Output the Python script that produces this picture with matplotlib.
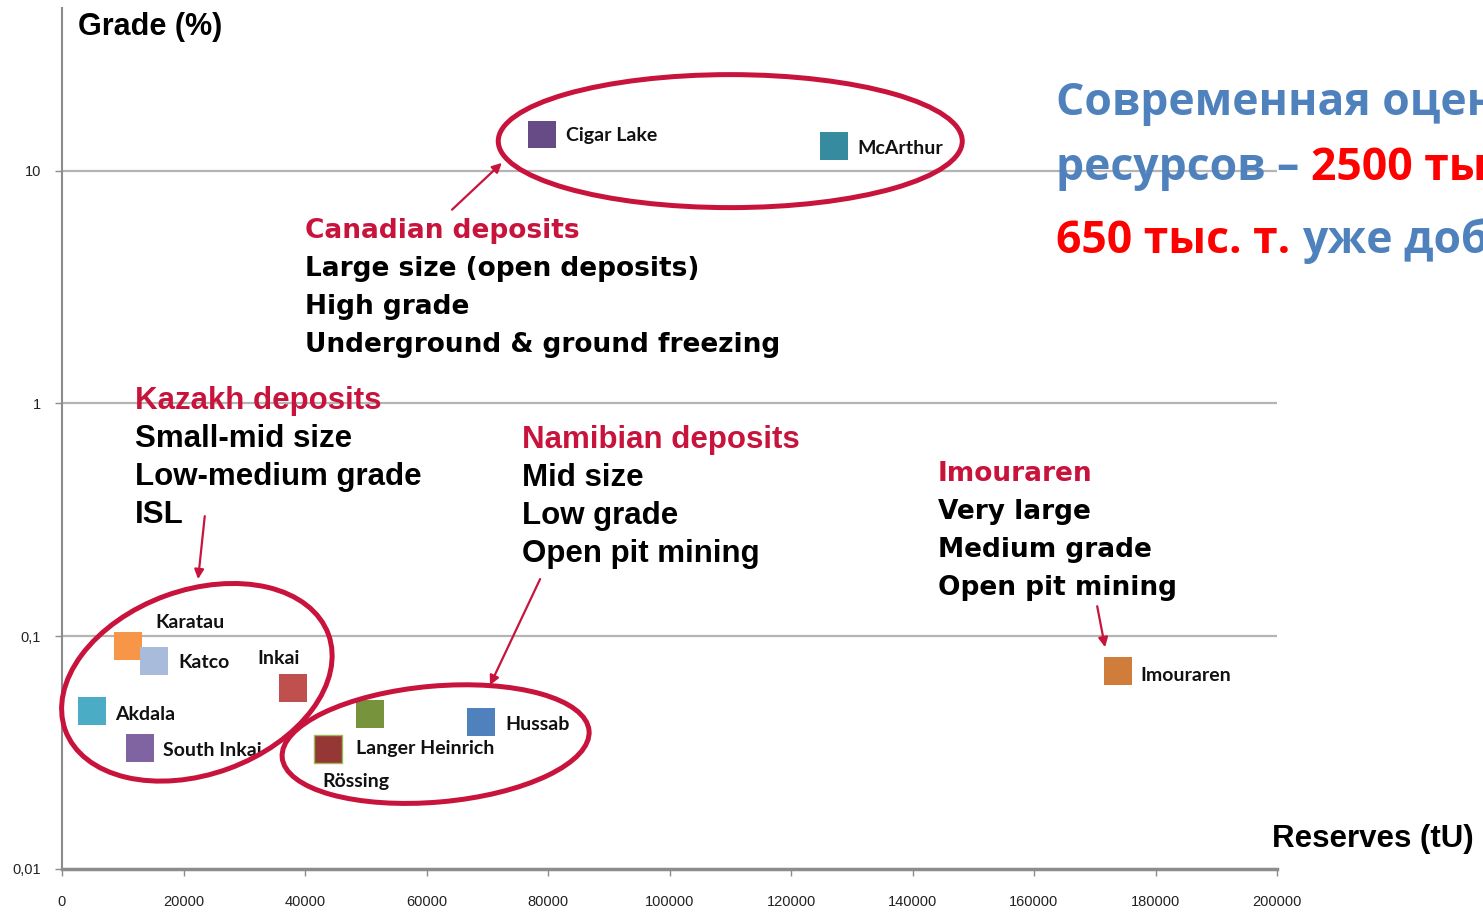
import numpy as np
import matplotlib
matplotlib.use("Agg")
import matplotlib.pyplot as plt
from matplotlib.patches import Ellipse
from matplotlib.transforms import ScaledTranslation
from matplotlib.ticker import FixedLocator, NullLocator

# deposits: reserves (tU) and grade (%)
names = ["Cigar Lake", "McArthur", "Karatau", "Katco", "Inkai", "Akdala",
         "South Inkai", "Langer Heinrich", "Rössing", "Hussab", "Imouraren"]
reserves = [79000, 127100, 10860, 15140, 38000, 4940, 12840, 50700, 43800, 69000, 173800]
grades = [14.3, 12.8, 0.0906, 0.0781, 0.0598, 0.0476, 0.0330, 0.0462, 0.0327, 0.0427, 0.0707]
colors = ["#674b86", "#378b9e", "#f79646", "#a9bbdb", "#c0504d", "#4bacc6",
          "#8064a2", "#77933c", "#953735", "#4f81bd", "#d07c3a"]

x_ticks = [0, 20000, 40000, 60000, 80000, 100000, 120000, 140000, 160000, 180000, 200000]
y_ticks = [0.01, 0.1, 1, 10]
y_tick_labels = ["0,01", "0,1", "1", "10"]

RED = "#c8143c"
BLUE = "#4f81bd"

W, H = 1483, 914
fig = plt.figure(figsize=(W / 100, H / 100), dpi=100)
ax = fig.add_axes([62 / W, 1 - 869 / H, (1277 - 62) / W, (869 - 8) / H])

ax.set_yscale("log")
ax.set_xlim(0, 200000)
ax.set_ylim(0.01, 50)

for g in [0.1, 1, 10]:
    ax.axhline(g, color="#b4b4b4", lw=1.6, zorder=1)

ax.scatter(reserves, grades, s=400, marker="s", c=colors, linewidths=0, zorder=3)
ax.scatter([reserves[8]], [grades[8]], s=400, marker="s", c=[colors[8]],
           edgecolors="#9bbb59", linewidths=1.0, zorder=3)

# label offsets (pixels) relative to marker
label_pos = {
    "Cigar Lake": (24, -1, "left"), "McArthur": (23, -3, "left"),
    "Karatau": (27, 24, "left"), "Katco": (24, -1, "left"),
    "Inkai": (-14, 30, "center"), "Akdala": (23, -3, "left"),
    "South Inkai": (23, -2, "left"), "Langer Heinrich": (-14, -34, "left"),
    "Rössing": (-6, -32, "left"), "Hussab": (24, -2, "left"),
    "Imouraren": (23, -4, "left"),
}
for n, x, y in zip(names, reserves, grades):
    dx, dy, ha = label_pos[n]
    ax.annotate(n, (x, y), xytext=(dx, dy), textcoords="offset pixels",
                ha=ha, va="center", fontsize=14, fontweight="bold",
                family=["Lato", "DejaVu Sans"], color="#111111", zorder=4)

# ellipses (center in data, size in pixels, angle)
groups = [
    (110000, 13.4, 464, 133, 0),
    (22200, 0.0634, 280, 184, 20),
    (61500, 0.0344, 308, 116, 5),
]
for cx, cy, w, h, a in groups:
    tr = fig.dpi_scale_trans + ScaledTranslation(cx, cy, ax.transData)
    ax.add_patch(Ellipse((0, 0), w / 100, h / 100, angle=a, transform=tr,
                         fill=False, ec=RED, lw=3.6, zorder=5, clip_on=False))

# arrows: (tail, head)
arrows = [
    ((64200, 6.8), (72400, 10.8)),
    ((23500, 0.328), (22400, 0.176)),
    ((78700, 0.176), (70450, 0.0616)),
    ((170400, 0.1346), (171700, 0.0897)),
]
for tail, head in arrows:
    ax.annotate("", xy=head, xytext=tail,
                arrowprops=dict(arrowstyle="-|>", color=RED, lw=1.6,
                                mutation_scale=14, shrinkA=0, shrinkB=0),
                zorder=5)

# text blocks
blocks = [
    (40000, 5.69, "Canadian deposits",
     ["Large size (open deposits)", "High grade", "Underground & ground freezing"],
     "DejaVu Sans", 19),
    (12000, 1.054, "Kazakh deposits",
     ["Small-mid size", "Low-medium grade", "ISL"], "Liberation Sans", 22.5),
    (75700, 0.716, "Namibian deposits",
     ["Mid size", "Low grade", "Open pit mining"], "Liberation Sans", 22.5),
    (144200, 0.512, "Imouraren",
     ["Very large", "Medium grade", "Open pit mining"], "DejaVu Sans", 19),
]
for x, y, title, lines, fam, fs in blocks:
    for i, t in enumerate([title] + lines):
        ax.annotate(t, (x, y), xytext=(0, -3 - 38 * i), textcoords="offset pixels",
                    ha="left", va="center", fontsize=fs, fontweight="bold",
                    family=fam, color=RED if i == 0 else "black", zorder=4)

# axes labels
fig.text(78 / W, 1 - 27 / H, "Grade (%)", fontsize=22, fontweight="bold",
         family="Liberation Sans", va="center", ha="left")
fig.text(1272 / W, 1 - 839 / H, "Reserves (tU)", fontsize=22.5, fontweight="bold",
         family="Liberation Sans", va="center", ha="left")

# ticks
ax.xaxis.set_major_locator(FixedLocator(x_ticks))
ax.set_xticklabels([str(v) for v in x_ticks])
ax.yaxis.set_major_locator(FixedLocator(y_ticks))
ax.yaxis.set_minor_locator(NullLocator())
ax.set_yticklabels(y_tick_labels)
ax.tick_params(axis="both", colors="#8c8c8c", labelcolor="#222222", labelsize=10.5)
ax.tick_params(axis="x", length=5, width=1, pad=14)
ax.tick_params(axis="y", length=5, width=1, pad=10)
for lab in ax.get_xticklabels() + ax.get_yticklabels():
    lab.set_family("Liberation Sans")

for s in ["top", "right"]:
    ax.spines[s].set_visible(False)
ax.spines["left"].set_color("#8c8c8c")
ax.spines["left"].set_linewidth(1.5)
ax.spines["bottom"].set_color("#8c8c8c")
ax.spines["bottom"].set_linewidth(2.5)

# russian caption (runs off the right edge, as in the slide)
fam_ru = ["Open Sans", "DejaVu Sans"]
kw = dict(fontsize=32, fontweight="bold", family=fam_ru)
fig.text(1056 / W, 1 - 115 / H, "Современная оценка мировых", color=BLUE, va="baseline", **kw)
t2 = fig.text(1056 / W, 1 - 180 / H, "ресурсов – ", color=BLUE, va="baseline", **kw)
t3 = fig.text(1056 / W, 1 - 253 / H, "650 тыс. т. ", color="#ff0000", va="baseline", **kw)
ax.annotate("2500 тыс. т.", xy=(1, 0), xycoords=t2, va="bottom", ha="left",
            color="#ff0000", annotation_clip=False, **kw)
ax.annotate("уже добыто", xy=(1, 0), xycoords=t3, va="bottom", ha="left",
            color=BLUE, annotation_clip=False, **kw)

fig.savefig("out.png", dpi=100)
